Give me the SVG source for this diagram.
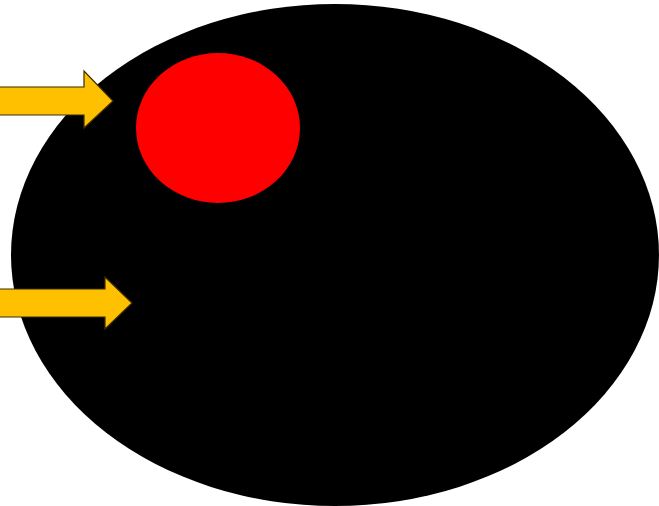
<svg xmlns="http://www.w3.org/2000/svg" width="659" height="506" viewBox="0 0 659 506">
<style>
.arrow{fill:#FFC000;stroke:#3a2e00;stroke-width:1.2;stroke-linejoin:miter}
</style>
<rect width="659" height="506" fill="#fff"/>
<g id="outer"><ellipse cx="335" cy="255" rx="324" ry="251" fill="#000"/></g>
<g id="inner"><ellipse cx="218" cy="128" rx="82" ry="75" fill="#f00"/></g>
<g id="connectors">
<path class="arrow" d="M-2 87 H84 V71 L113 101 L84 128 V115 H-2 Z"/>
<path class="arrow" d="M-2 289 H105 V277 L132 303 L105 329 V317 H-2 Z"/>
</g>
</svg>
